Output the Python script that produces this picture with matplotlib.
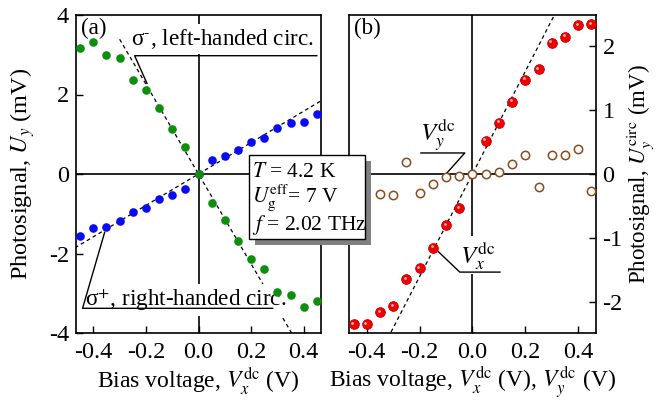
import matplotlib
matplotlib.use("Agg")
import matplotlib.pyplot as plt
import matplotlib.transforms as mtransforms
from matplotlib.patches import Rectangle
import numpy as np

plt.rcParams['font.family'] = ['Liberation Serif', 'DejaVu Serif']
plt.rcParams['mathtext.fontset'] = 'stix'
plt.rcParams['axes.unicode_minus'] = False

# ---------------- data ----------------
# panel (a)
x_a = [-0.45, -0.40, -0.35, -0.30, -0.25, -0.20, -0.15, -0.10, -0.05, 0.00,
       0.05, 0.10, 0.15, 0.20, 0.25, 0.30, 0.35, 0.40, 0.45]
sigma_plus = [-1.55, -1.37, -1.33, -1.19, -0.95, -0.85, -0.64, -0.52, -0.385, 0.0,
              0.345, 0.46, 0.60, 0.80, 0.91, 1.16, 1.28, 1.31, 1.52]
sigma_minus = [3.16, 3.31, 2.99, 2.93, 2.36, 2.12, 1.65, 1.12, 0.69, 0.0,
               -0.72, -1.16, -1.69, -2.15, -2.40, -2.98, -3.04, -3.35, -3.20]
slope_plus = 3.95
slope_minus = -11.3
fit_plus_x = [-0.47, 0.47]
fit_minus_x = [-0.30, 0.36]

# panel (b)
x_b_x = [-0.45, -0.40, -0.35, -0.30, -0.25, -0.20, -0.15, -0.10, -0.05,
         0.05, 0.10, 0.15, 0.20, 0.25, 0.30, 0.35, 0.40, 0.45]
u_circ_x = [-2.34, -2.34, -2.16, -2.06, -1.64, -1.47, -1.15, -0.80, -0.53,
            0.52, 0.80, 1.13, 1.47, 1.63, 2.05, 2.14, 2.32, 2.34]
x_b_y = [-0.35, -0.30, -0.25, -0.20, -0.15, -0.10, -0.05, 0.00, 0.05, 0.10,
         0.15, 0.20, 0.25, 0.30, 0.35, 0.40, 0.45]
u_circ_y = [-0.31, -0.32, 0.19, -0.30, -0.16, -0.04, -0.03, 0.0, 0.005, 0.03,
            0.15, 0.29, -0.21, 0.30, 0.29, 0.39, -0.27]
slope_x = 8.0
fit_x_x = [-0.32, 0.32]

xticks = [-0.4, -0.2, 0.0, 0.2, 0.4]
xticklabels = ['-0.4', '-0.2', '0.0', '0.2', '0.4']
yticks_a = [-4, -2, 0, 2, 4]
yticks_b = [-2, -1, 0, 1, 2]

FS = 17.5      # ticks / axis labels
FS_XL = 17.0   # x labels
FS_NOTE = 16.7 # sigma callouts
FS_BOX = 15.5
green = '#0c900c'
blue = '#0a0af5'
red = '#f00000'
brown = '#8b4a1c'

fig = plt.figure(figsize=(6.58, 4.01), dpi=100)
axa = fig.add_axes([76/658, 1-333/401, 245/658, 318/401])
axb = fig.add_axes([349.3/658, 1-333/401, 246.3/658, 318/401])

for ax in (axa, axb):
    for s in ax.spines.values():
        s.set_linewidth(1.2)
    ax.set_xlim(-0.466, 0.466)
    ax.set_xticks(xticks)
    ax.set_xticklabels(xticklabels)
    ax.tick_params(axis='both', direction='in', length=5, width=1.0,
                   labelsize=FS, pad=5)
    ax.tick_params(axis='x', pad=6.5)
    ax.axhline(0, color='black', lw=1.2, zorder=1)
    ax.axvline(0, color='black', lw=1.2, zorder=1)

# ---------- panel (a) ----------
axa.set_ylim(-4, 4)
axa.set_yticks(yticks_a)
fx = np.array(fit_plus_x)
axa.plot(fx, slope_plus*fx, color='black', lw=0.9, ls=(0, (3, 2.5)), zorder=2)
fx = np.array(fit_minus_x)
axa.plot(fx, slope_minus*fx, color='black', lw=0.9, ls=(0, (3, 2.5)), zorder=2)
axa.plot(x_a, sigma_plus, 'o', color=blue, ms=6.2, mew=0, zorder=5)
axa.plot(x_a, sigma_minus, 'o', color=green, ms=6.2, mew=0, zorder=5)
lab = axa.set_ylabel('Photosignal, $U_y$ (mV)', fontsize=FS)
lab.set_verticalalignment('center')
lab.set_horizontalalignment('center')
axa.yaxis.set_label_coords((23-76)/245, 0.5)
axa.set_xlabel('Bias voltage, $V_x^{\\rm dc}$ (V)', fontsize=FS_XL, labelpad=1.5)
axa.text(0.022, 0.99, '(a)', transform=axa.transAxes, fontsize=FS_NOTE,
         ha='left', va='top')

# callouts (a)
axa.text(-0.255, 3.245, 'σ$^{\\text{-}}$, left-handed circ.', fontsize=FS_NOTE,
         ha='left', va='baseline', zorder=3,
         bbox=dict(facecolor='white', edgecolor='none', pad=2))
axa.plot([0.450, -0.243, -0.196], [2.976, 2.976, 2.28], color='black', lw=1.0,
         zorder=4)
axa.text(-0.433, -3.32, 'σ$^{+}$, right-handed circ.', fontsize=FS_NOTE,
         ha='left', va='baseline', zorder=3,
         bbox=dict(facecolor='white', edgecolor='none', pad=2))
axa.plot([0.282, -0.441, -0.357], [-3.379, -3.379, -1.467], color='black',
         lw=1.0, zorder=4)

# ---------- panel (b) ----------
axb.set_ylim(-2.48, 2.48)
axb.set_yticks(yticks_b)
axb.yaxis.tick_right()
axb.yaxis.set_label_position('right')
fx = np.array(fit_x_x)
axb.plot(fx, slope_x*fx, color='black', lw=0.9, ls=(0, (3, 2.5)), zorder=2)
axb.plot(x_b_y, u_circ_y, 'o', mfc='white', mec=brown, ms=6.0, mew=1.1, zorder=5)
axb.plot(x_b_x, u_circ_x, 'o', color=red, mec='#c00000', ms=7.0, mew=0.6, zorder=5)
hl = mtransforms.offset_copy(axb.transData, fig=fig, x=-1.3, y=1.3, units='dots')
axb.plot(x_b_x, u_circ_x, 'o', color='#ffb4b4', ms=2.0, mew=0, zorder=6,
         transform=hl)
lab = axb.set_ylabel('Photosignal, $U_y^{\\rm circ}$ (mV)', fontsize=16.5,
                     rotation=90)
lab.set_verticalalignment('center')
lab.set_horizontalalignment('center')
axb.yaxis.set_label_coords((640.5-349.3)/246.3, 0.5)
axb.set_xlabel('Bias voltage, $V_x^{\\rm dc}$ (V), $V_y^{\\rm dc}$ (V)',
               fontsize=FS_XL, labelpad=1.5)
axb.text(0.02, 0.99, '(b)', transform=axb.transAxes, fontsize=FS_NOTE,
         ha='left', va='top')

# callouts (b)
axb.text(-0.198, 0.51, '$V_y^{\\rm dc}$', fontsize=18, ha='left',
         va='baseline', zorder=3)
axb.plot([-0.195, -0.029, -0.099], [0.328, 0.328, 0.005], color='black',
         lw=1.0, zorder=4)
axb.text(-0.048, -1.39, '$V_x^{\\rm dc}$', fontsize=18, ha='left',
         va='baseline', zorder=3,
         bbox=dict(facecolor='white', edgecolor='none', pad=2))
axb.plot([0.104, -0.048, -0.137], [-1.53, -1.53, -1.18], color='black',
         lw=1.0, zorder=4)

# ---------- info box (figure coords) ----------
bx0, by0 = 249/658, 1-239.3/401
bw, bh = (365-249)/658, (239.3-155)/401
offx, offy = 5.5/658, 5.5/401
fig.patches.append(Rectangle((bx0+offx, by0-offy), bw, bh, transform=fig.transFigure,
                             facecolor='#808080', edgecolor='none', zorder=10))
fig.patches.append(Rectangle((bx0, by0), bw, bh, transform=fig.transFigure,
                             facecolor='white', edgecolor='black', lw=1.0, zorder=11))
tx = 252.3/658
fig.text(tx, 1-176.7/401, '$T$ = 4.2 K', fontsize=FS_BOX, va='baseline', zorder=12)
fig.text(tx, 1-201.7/401, '$U_{\\rm g}^{\\rm eff}$= 7 V', fontsize=FS_BOX,
         va='baseline', zorder=12)
fig.text(tx, 1-230/401, '$f$ = 2.02 THz', fontsize=FS_BOX, va='baseline', zorder=12)

fig.savefig('out.png', dpi=100)
